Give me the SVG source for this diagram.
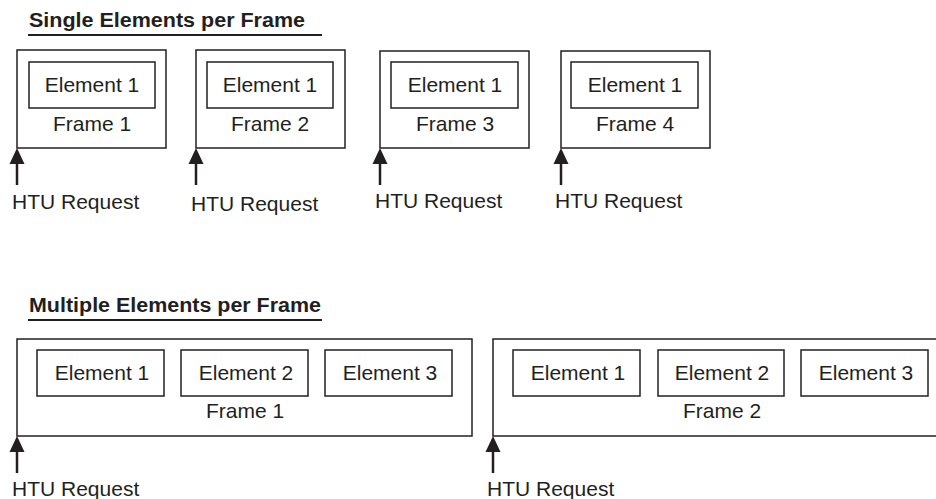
<svg xmlns="http://www.w3.org/2000/svg" width="936" height="499" viewBox="0 0 936 499">
<style>
  .frame{fill:#fff;stroke:#231f20;stroke-width:1.5}
  .el{fill:#fff;stroke:#231f20;stroke-width:1.5}
  .t{font-family:"Liberation Sans",Arial,sans-serif;font-size:21px;fill:#231f20;text-anchor:middle}
  .lab{font-family:"Liberation Sans",Arial,sans-serif;font-size:21px;fill:#231f20}
  .title{font-family:"Liberation Sans",Arial,sans-serif;font-size:20px;font-weight:bold;fill:#231f20}
  .ul{stroke:#231f20;stroke-width:2}
  .arr{stroke:#231f20;stroke-width:2.5;fill:none}
  .head{fill:#231f20}
</style>
<rect width="936" height="499" fill="#fff"/>
<g id="title1">
  <text class="title" x="29" y="27" textLength="276" lengthAdjust="spacingAndGlyphs">Single Elements per Frame</text>
  <line class="ul" x1="28" y1="35" x2="322" y2="35"/>
</g>
<g id="sframe1">
  <rect class="frame" x="17" y="50" width="149" height="98"/>
  <rect class="el" x="29" y="62" width="126" height="46"/>
  <text class="t" x="92" y="92">Element 1</text>
  <text class="t" x="92" y="131">Frame 1</text>
</g>
<g id="sframe2">
  <rect class="frame" x="196" y="50" width="149" height="98"/>
  <rect class="el" x="207" y="62" width="126" height="46"/>
  <text class="t" x="270" y="92">Element 1</text>
  <text class="t" x="270" y="131">Frame 2</text>
</g>
<g id="sframe3">
  <rect class="frame" x="380" y="51" width="149" height="97"/>
  <rect class="el" x="391" y="62" width="127" height="46"/>
  <text class="t" x="455" y="92">Element 1</text>
  <text class="t" x="455" y="131">Frame 3</text>
</g>
<g id="sframe4">
  <rect class="frame" x="561" y="51" width="149" height="97"/>
  <rect class="el" x="571" y="62" width="127" height="46"/>
  <text class="t" x="635" y="92">Element 1</text>
  <text class="t" x="635" y="131">Frame 4</text>
</g>
<g id="title2">
  <text class="title" x="29" y="312" textLength="292" lengthAdjust="spacingAndGlyphs">Multiple Elements per Frame</text>
  <line class="ul" x1="28" y1="320" x2="322" y2="320"/>
</g>
<g id="mframe1">
  <rect class="frame" x="17" y="339" width="455" height="97"/>
  <rect class="el" x="37" y="350" width="127" height="46"/>
  <rect class="el" x="181" y="350" width="127" height="46"/>
  <rect class="el" x="325" y="350" width="127" height="46"/>
  <text class="t" x="102" y="380">Element 1</text>
  <text class="t" x="246" y="380">Element 2</text>
  <text class="t" x="390" y="380">Element 3</text>
  <text class="t" x="245" y="418">Frame 1</text>
</g>
<g id="mframe2">
  <rect class="frame" x="493" y="339" width="460" height="97"/>
  <rect class="el" x="513" y="350" width="127" height="46"/>
  <rect class="el" x="658" y="350" width="126" height="46"/>
  <rect class="el" x="801" y="350" width="127" height="46"/>
  <text class="t" x="578" y="380">Element 1</text>
  <text class="t" x="722" y="380">Element 2</text>
  <text class="t" x="866" y="380">Element 3</text>
  <text class="t" x="722" y="418">Frame 2</text>
</g>
<g id="connectors">
  <line class="arr" x1="17" y1="162" x2="17" y2="185"/>
  <polygon class="head" points="17,148 9.5,164 24.5,164"/>
  <line class="arr" x1="196" y1="162" x2="196" y2="185"/>
  <polygon class="head" points="196,148 188.5,164 203.5,164"/>
  <line class="arr" x1="380" y1="162" x2="380" y2="185"/>
  <polygon class="head" points="380,148 372.5,164 387.5,164"/>
  <line class="arr" x1="561" y1="162" x2="561" y2="185"/>
  <polygon class="head" points="561,148 553.5,164 568.5,164"/>
  <line class="arr" x1="17" y1="450" x2="17" y2="473"/>
  <polygon class="head" points="17,436 9.5,452 24.5,452"/>
  <line class="arr" x1="493" y1="450" x2="493" y2="473"/>
  <polygon class="head" points="493,436 485.5,452 500.5,452"/>
</g>
<g id="labels">
  <text class="lab" x="12" y="209">HTU Request</text>
  <text class="lab" x="191" y="211">HTU Request</text>
  <text class="lab" x="375" y="208">HTU Request</text>
  <text class="lab" x="555" y="208">HTU Request</text>
  <text class="lab" x="12" y="496">HTU Request</text>
  <text class="lab" x="487" y="496">HTU Request</text>
</g>
</svg>
